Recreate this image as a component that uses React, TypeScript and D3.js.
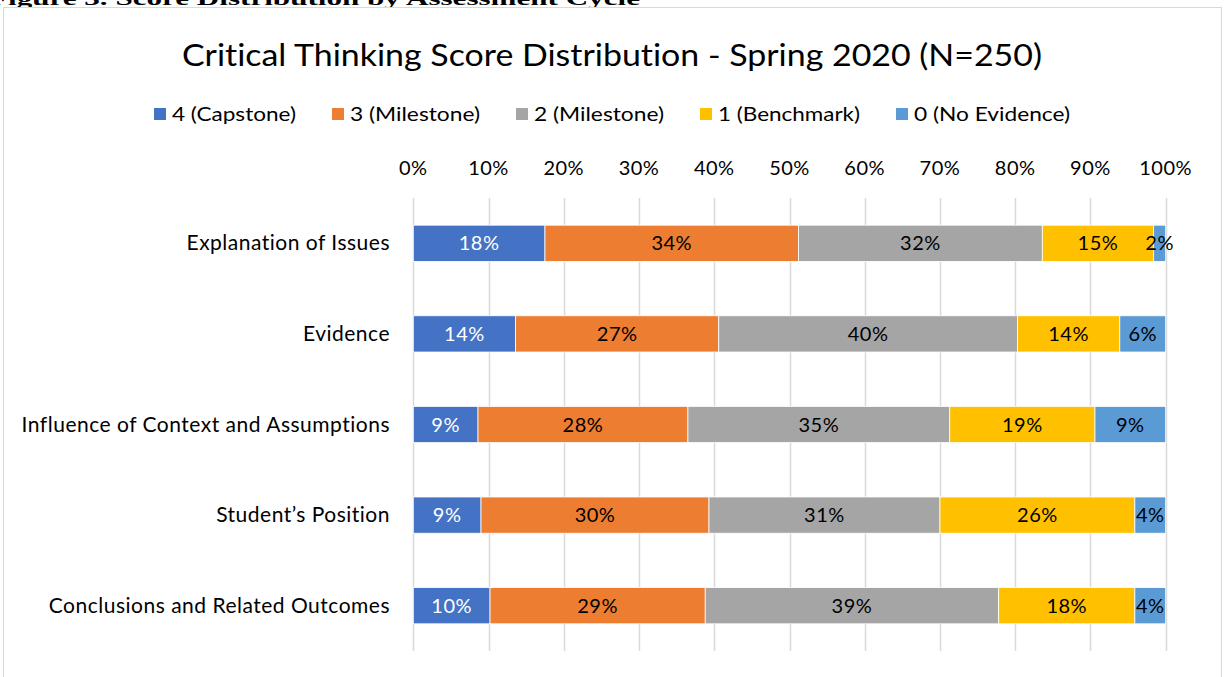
import React, { useEffect, useRef } from "react";
import * as d3 from "d3";

const categories = [
  "Explanation of Issues",
  "Evidence",
  "Influence of Context and Assumptions",
  "Student’s Position",
  "Conclusions and Related Outcomes",
];
const seriesNames = ["4 (Capstone)", "3 (Milestone)", "2 (Milestone)", "1 (Benchmark)", "0 (No Evidence)"];
const capstone = [17.5, 13.6, 8.6, 9.0, 10.2];
const milestone3 = [33.7, 27.0, 27.9, 30.3, 28.6];
const milestone2 = [32.4, 39.7, 34.8, 30.7, 39.0];
const benchmark = [14.8, 13.6, 19.3, 25.9, 18.1];
const noEvidence = [1.6, 6.1, 9.4, 4.1, 4.1];
const tickValues = [0, 0.1, 0.2, 0.3, 0.4, 0.5, 0.6, 0.7, 0.8, 0.9, 1.0];
const colors = ["#4472C4", "#ED7D31", "#A5A5A5", "#FFC000", "#5B9BD5"];
const labelColors = ["#ffffff", "#000000", "#000000", "#000000", "#000000"];

const FONT = "Lato, 'Open Sans', sans-serif";

export default function App() {
  const ref = useRef<SVGSVGElement | null>(null);

  useEffect(() => {
    document.body.style.margin = "0";
    const svg = d3.select(ref.current);
    svg.selectAll("*").remove();
    svg.style("font-variant-ligatures", "none").style("font-feature-settings", "'liga' 0");

    const allSeries = [capstone, milestone3, milestone2, benchmark, noEvidence];
    const rows = categories.map((c, i) => {
      const r: any = { category: c };
      seriesNames.forEach((s, j) => (r[s] = allSeries[j][i]));
      return r;
    });
    const stacked = d3.stack<any>().keys(seriesNames).offset(d3.stackOffsetExpand)(rows);

    const x = d3.scaleLinear().domain([0, 1]).range([413.3, 1165.7]);
    const y = d3.scaleBand<string>().domain(categories).range([198, 651]).paddingInner(0.6).paddingOuter(0.3);

    // caption (clipped at top, as in the reference)
    svg.append("text")
      .attr("x", -11).attr("y", 5)
      .attr("font-family", "'Liberation Serif', 'DejaVu Serif', serif")
      .attr("font-weight", "bold").attr("font-size", 18)
      .attr("textLength", 651).attr("lengthAdjust", "spacingAndGlyphs")
      .text("Figure 3. Score Distribution by Assessment Cycle");

    // chart border
    svg.append("rect")
      .attr("x", 3.5).attr("y", 7.5).attr("width", 1218).attr("height", 700)
      .attr("fill", "#ffffff").attr("stroke", "#d9d9d9").attr("stroke-width", 1);

    // title
    svg.append("text")
      .attr("x", 612).attr("y", 66).attr("text-anchor", "middle")
      .attr("font-family", FONT).attr("font-size", 31).attr("fill", "#000")
      .attr("textLength", 860).attr("lengthAdjust", "spacingAndGlyphs")
      .text("Critical Thinking Score Distribution - Spring 2020 (N=250)");

    // legend
    const legendWidths = [124, 130, 130, 142, 156];
    const legendGap = 36;
    const itemW = legendWidths.map((w) => 18 + w);
    const totalLegend = d3.sum(itemW) + legendGap * (itemW.length - 1);
    let lx = 612 - totalLegend / 2;
    const lg = svg.append("g");
    seriesNames.forEach((s, i) => {
      lg.append("rect").attr("x", lx).attr("y", 108).attr("width", 12).attr("height", 12).attr("fill", colors[i]);
      lg.append("text").attr("x", lx + 18).attr("y", 121)
        .attr("font-family", FONT).attr("font-size", 19).attr("fill", "#000")
        .attr("textLength", legendWidths[i]).attr("lengthAdjust", "spacingAndGlyphs")
        .text(s);
      lx += itemW[i] + legendGap;
    });

    // gridlines
    svg.append("g").selectAll("line").data(tickValues).join("line")
      .attr("x1", (d) => Math.round(x(d)) + 0.5).attr("x2", (d) => Math.round(x(d)) + 0.5)
      .attr("y1", 198).attr("y2", 651)
      .attr("stroke", "#d9d9d9").attr("stroke-width", 1.5);

    // top axis tick labels
    svg.append("g").selectAll("text").data(tickValues).join("text")
      .attr("x", (d) => x(d)).attr("y", 175).attr("text-anchor", "middle")
      .attr("font-family", FONT).attr("font-size", 20).attr("letter-spacing", 0.5).attr("fill", "#000")
      .text((d) => d3.format(".0%")(d));

    // category labels
    svg.append("g").selectAll("text").data(categories).join("text")
      .attr("x", 390).attr("y", (d) => (y(d) as number) + y.bandwidth() / 2 + 7)
      .attr("text-anchor", "end")
      .attr("font-family", FONT).attr("font-size", 21).attr("letter-spacing", 0.5).attr("fill", "#000")
      .text((d) => d);

    // bars
    const bars = svg.append("g");
    stacked.forEach((layer, i) => {
      const g = bars.append("g");
      g.selectAll("rect").data(layer).join("rect")
        .attr("x", (d) => x(d[0])).attr("width", (d) => x(d[1]) - x(d[0]))
        .attr("y", (d) => y(d.data.category) as number).attr("height", y.bandwidth())
        .attr("fill", colors[i]).attr("stroke", "#ffffff").attr("stroke-width", 0.8);
      g.selectAll("text").data(layer).join("text")
        .attr("x", (d) => (x(d[0]) + x(d[1])) / 2)
        .attr("y", (d) => (y(d.data.category) as number) + y.bandwidth() / 2 + 7)
        .attr("text-anchor", "middle")
        .attr("font-family", FONT).attr("font-size", 20).attr("letter-spacing", 0.5).attr("fill", labelColors[i])
        .text((d) => d3.format(".0%")(d[1] - d[0]));
    });
  }, []);

  return (
    <svg ref={ref} width={1225} height={677} style={{ display: "block", position: "absolute", left: 0, top: 0, background: "#fff" }} />
  );
}
